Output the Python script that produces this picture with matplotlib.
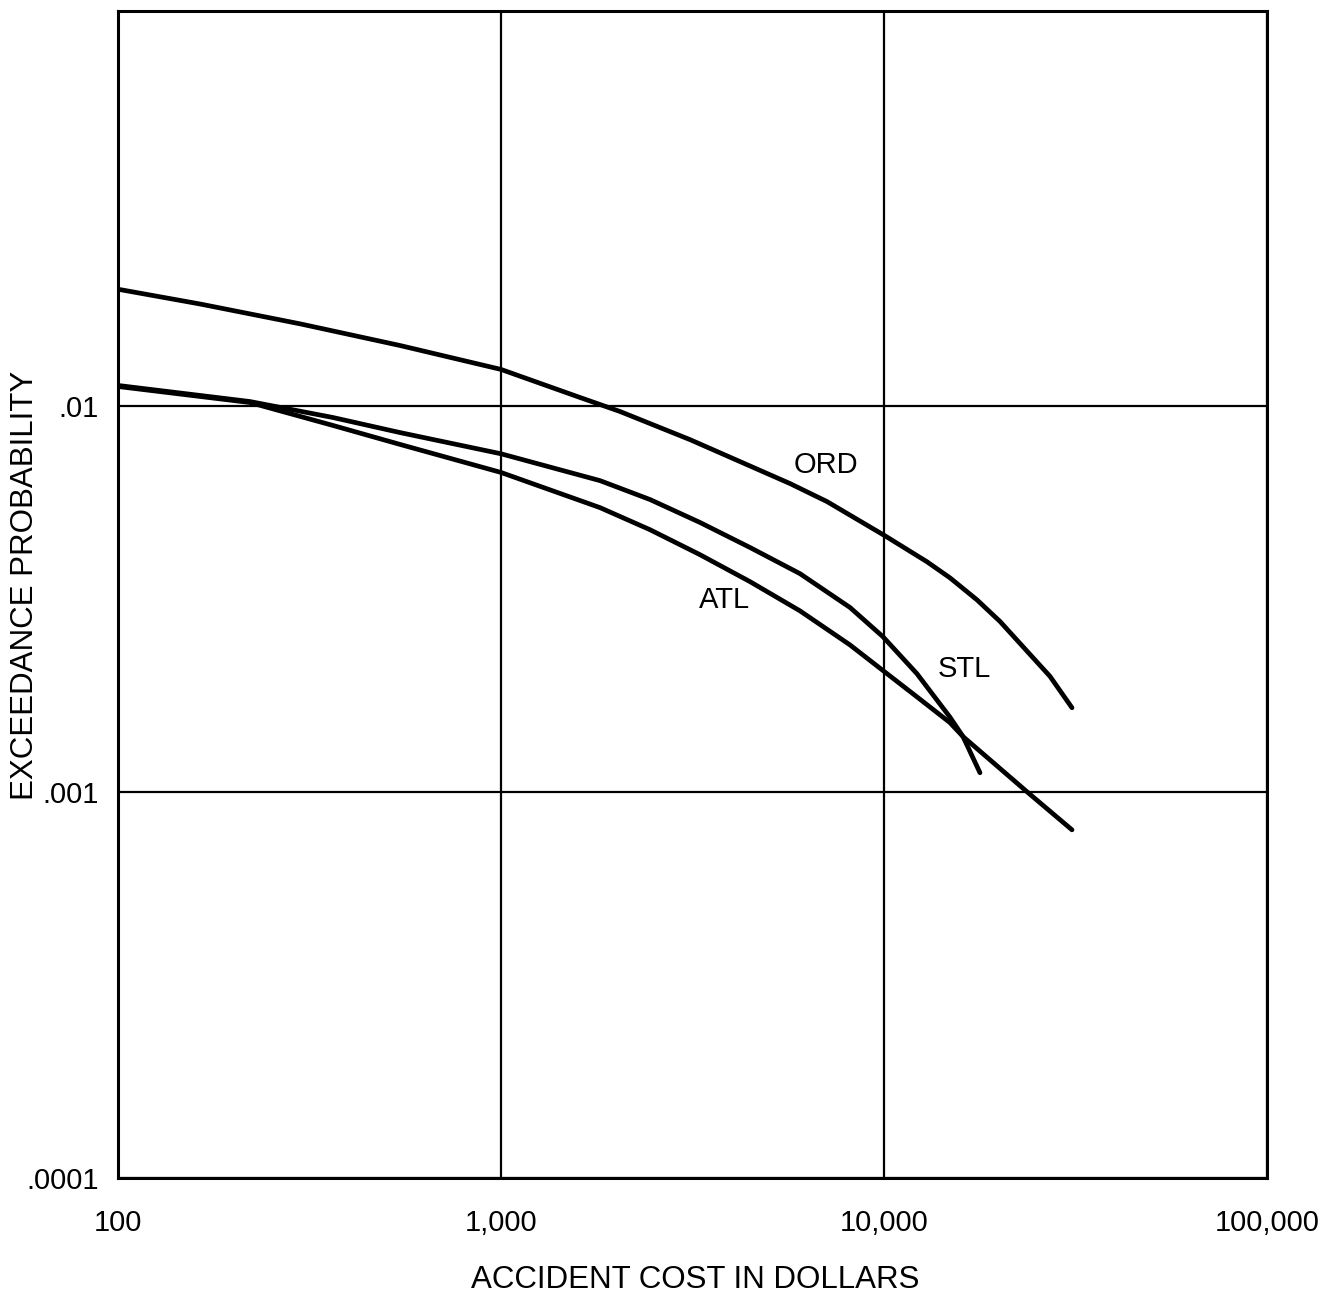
import matplotlib.pyplot as plt

plt.rcParams['font.family'] = ['Liberation Sans', 'DejaVu Sans']

# accident cost (dollars) vs exceedance probability
ord_cost = [100, 164, 299, 545, 1000, 1608, 2045, 3115, 5684, 7100, 10060,
            12950, 14870, 17490, 20090, 27130, 30970]
ord_prob = [0.0200, 0.01831, 0.01627, 0.01430, 0.01240, 0.01049, 0.00965,
            0.00816, 0.00628, 0.00564, 0.00460, 0.00394, 0.00358, 0.00314,
            0.00276, 0.00199, 0.00165]

stl_cost = [100, 221, 364, 545, 1000, 1814, 2449, 3308, 4468, 6036, 8152,
            9940, 12200, 14870, 16080, 17810]
stl_prob = [0.01127, 0.01024, 0.00931, 0.00851, 0.00750, 0.00639, 0.00571,
            0.00498, 0.00429, 0.00367, 0.00300, 0.00252, 0.00202, 0.00156,
            0.00139, 0.00112]

atl_cost = [100, 221, 364, 545, 1000, 1814, 2449, 3308, 4468, 6036, 8152,
            9940, 12200, 14870, 16080, 23630, 30970]
atl_prob = [0.01120, 0.01018, 0.00888, 0.00793, 0.00671, 0.00544, 0.00477,
            0.00411, 0.00350, 0.00294, 0.00240, 0.00206, 0.00176, 0.00151,
            0.00139, 0.00100, 0.000797]

x_ticks = [100, 1000, 10000, 100000]
x_labels = ['100', '1,000', '10,000', '100,000']
y_ticks = [0.0001, 0.001, 0.01]
y_labels = ['.0001', '.001', '.01']

fig = plt.figure(figsize=(13.21, 12.99), dpi=100)
ax = fig.add_axes([0.0893, 0.0931, 0.8698, 0.8984])

ax.set_xscale('log')
ax.set_yscale('log')
ax.set_xlim(100, 100000)
ax.set_ylim(0.0001, 0.105)

for c, p in [(ord_cost, ord_prob), (stl_cost, stl_prob), (atl_cost, atl_prob)]:
    ax.plot(c, p, color='black', lw=3.4, solid_capstyle='round',
            solid_joinstyle='round', zorder=3)

ax.text(7060, 0.00703, 'ORD', fontsize=21, ha='center', va='center')
ax.text(3845, 0.00314, 'ATL', fontsize=21, ha='center', va='center')
ax.text(16180, 0.00208, 'STL', fontsize=21, ha='center', va='center')

ax.set_xticks(x_ticks)
ax.set_xticklabels(x_labels)
ax.set_yticks(y_ticks)
ax.set_yticklabels(y_labels)
ax.minorticks_off()
ax.tick_params(length=0, labelsize=21, pad=14)
ax.tick_params(axis='x', pad=22)
ax.grid(True, which='major', color='black', lw=1.6)

for s in ax.spines.values():
    s.set_linewidth(2.2)

fig.text(695 / 1321, 1 - 1280 / 1299, 'ACCIDENT COST IN DOLLARS',
         fontsize=22.5, ha='center', va='center')
fig.text(25 / 1321, 1 - 585 / 1299, 'EXCEEDANCE PROBABILITY',
         fontsize=22.5, ha='center', va='center', rotation=90)

fig.savefig('out.png', dpi=100)
